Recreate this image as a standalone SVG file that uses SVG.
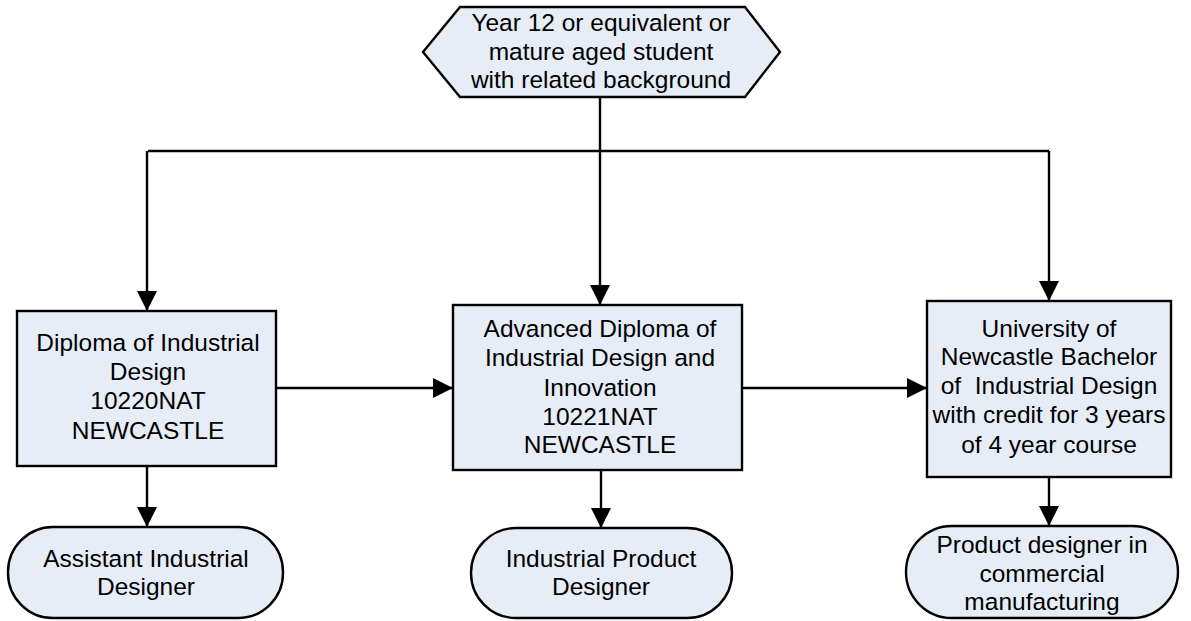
<svg xmlns="http://www.w3.org/2000/svg" width="1191" height="621" viewBox="0 0 1191 621">
<style>
.n{fill:#E6EDF7;stroke:#000;stroke-width:2.4}
.t{font-family:"Liberation Sans",Arial,sans-serif;font-size:24.5px;fill:#000;text-anchor:middle}
.c{fill:none;stroke:#000;stroke-width:2.4}
</style>
<defs>
<marker id="ah" markerWidth="20" markerHeight="20" viewBox="0 0 20 20" refX="20" refY="10" orient="auto" markerUnits="userSpaceOnUse">
<path d="M0,0 L20,10 L0,20 Z" fill="#000"/>
</marker>
</defs>
<rect width="1191" height="621" fill="#fff"/>
<g id="connectors">
<path class="c" d="M600,97 V151"/>
<path class="c" d="M148,151 H1049"/>
<path class="c" d="M147,151 V311" marker-end="url(#ah)"/>
<path class="c" d="M600,151 V305" marker-end="url(#ah)"/>
<path class="c" d="M1049,151 V301" marker-end="url(#ah)"/>
<path class="c" d="M276,388 H453" marker-end="url(#ah)"/>
<path class="c" d="M742,388 H927" marker-end="url(#ah)"/>
<path class="c" d="M147,466 V527" marker-end="url(#ah)"/>
<path class="c" d="M601,470 V528" marker-end="url(#ah)"/>
<path class="c" d="M1049,477 V526" marker-end="url(#ah)"/>
</g>
<g id="start">
<polygon class="n" points="460,7 745,7 780,52 745,97 460,97 423,52"/>
<text class="t" x="601" y="31">Year 12 or equivalent or</text>
<text class="t" x="601" y="60">mature aged student</text>
<text class="t" x="601" y="88">with related background</text>
</g>
<g id="diploma">
<rect class="n" x="17" y="311" width="259" height="155"/>
<text class="t" x="148" y="351">Diploma of Industrial</text>
<text class="t" x="148" y="380">Design</text>
<text class="t" x="148" y="409">10220NAT</text>
<text class="t" x="148" y="439">NEWCASTLE</text>
</g>
<g id="advdiploma">
<rect class="n" x="453" y="305" width="289" height="165"/>
<text class="t" x="600" y="337">Advanced Diploma of</text>
<text class="t" x="600" y="366">Industrial Design and</text>
<text class="t" x="600" y="396">Innovation</text>
<text class="t" x="600" y="425">10221NAT</text>
<text class="t" x="600" y="453">NEWCASTLE</text>
</g>
<g id="university">
<rect class="n" x="927" y="301" width="244" height="176"/>
<text class="t" x="1049" y="337">University of</text>
<text class="t" x="1049" y="365">Newcastle Bachelor</text>
<text class="t" x="1049" y="394" xml:space="preserve">of  Industrial Design</text>
<text class="t" x="1049" y="423">with credit for 3 years</text>
<text class="t" x="1049" y="453">of 4 year course</text>
</g>
<g id="assistant">
<rect class="n" x="8" y="527" width="275" height="91" rx="45" ry="45"/>
<text class="t" x="146" y="567">Assistant Industrial</text>
<text class="t" x="146" y="595">Designer</text>
</g>
<g id="product">
<rect class="n" x="471" y="528" width="261" height="90" rx="45" ry="45"/>
<text class="t" x="601" y="567">Industrial Product</text>
<text class="t" x="601" y="595">Designer</text>
</g>
<g id="commercial">
<rect class="n" x="906" y="526" width="272" height="92" rx="46" ry="46"/>
<text class="t" x="1042" y="553">Product designer in</text>
<text class="t" x="1042" y="582">commercial</text>
<text class="t" x="1042" y="610">manufacturing</text>
</g>
</svg>
